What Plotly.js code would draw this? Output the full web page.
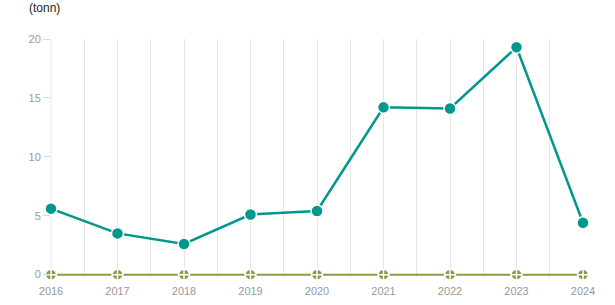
<!DOCTYPE html>
<html>
<head>
<meta charset="utf-8">
<script src="https://cdn.plot.ly/plotly-3.0.1.min.js"></script>
<style>
  html, body { margin: 0; padding: 0; background: #fff; }
  #chart { width: 615px; height: 305px; }
</style>
</head>
<body>
<div id="chart"></div>
<script>
// Years on the x axis
const years = [2016, 2017, 2018, 2019, 2020, 2021, 2022, 2023, 2024];
// Main series (tonn)
const mainValues = [5.6, 3.5, 2.6, 5.1, 5.4, 14.2, 14.1, 19.3, 4.4];
// Second series, zero every year
const zeroValues = [0, 0, 0, 0, 0, 0, 0, 0, 0];
// Y tick labels
const yTicks = [0, 5, 10, 15, 20];

const teal = '#00978f';
const olive = '#8a9a45';
const grid = '#e6e6e6';

const traces = [
  {
    x: years, y: zeroValues, type: 'scatter', mode: 'lines+markers',
    line: { color: olive, width: 2 },
    marker: { symbol: 'circle-cross', size: 11, color: olive, line: { color: '#fff', width: 1.5 } },
    cliponaxis: false, hoverinfo: 'x+y'
  },
  {
    x: years, y: mainValues, type: 'scatter', mode: 'lines+markers',
    line: { color: teal, width: 2.5 },
    marker: { symbol: 'circle', size: 12, color: teal, line: { color: '#fff', width: 1.5 } },
    cliponaxis: false, hoverinfo: 'x+y'
  }
];

const layout = {
  width: 615, height: 305,
  margin: { l: 51, r: 32, t: 39, b: 28 },
  paper_bgcolor: '#fff', plot_bgcolor: '#fff',
  showlegend: false,
  font: { family: 'Liberation Sans, Arial, sans-serif', size: 11, color: '#999' },
  xaxis: {
    range: [2016, 2024], tickmode: 'array', tickvals: years, ticktext: years.map(String),
    showgrid: true, gridcolor: grid, gridwidth: 1,
    minor: { dtick: 0.5, tick0: 2016, showgrid: true, gridcolor: grid, gridwidth: 1 },
    zeroline: false, showline: false, ticks: 'outside', ticklen: 4, tickcolor: 'rgba(0,0,0,0)',
    tickfont: { color: '#999', size: 11 }, fixedrange: true
  },
  yaxis: {
    range: [-0.2, 20], tickmode: 'array', tickvals: yTicks, ticktext: yTicks.map(String),
    showgrid: false, zeroline: false, showline: false,
    ticks: 'outside', ticklen: 7, tickcolor: '#d9d9d9', tickwidth: 1,
    tickfont: { color: '#999', size: 11 }, fixedrange: true
  },
  // gridline along the left edge of the plot (first year)
  shapes: [{
    type: 'line', layer: 'below', xref: 'paper', yref: 'y',
    x0: 0, x1: 0, y0: -0.2, y1: 20,
    line: { color: grid, width: 1 }
  }],
  annotations: [{
    text: '(tonn)', xref: 'paper', yref: 'paper', x: -0.045, y: 1.0,
    xanchor: 'left', yanchor: 'bottom', yshift: 22, showarrow: false,
    font: { family: 'Liberation Sans, Arial, sans-serif', size: 12, color: '#222' }
  }]
};

Plotly.newPlot('chart', traces, layout, { displayModeBar: false, staticPlot: true });
</script>
</body>
</html>
